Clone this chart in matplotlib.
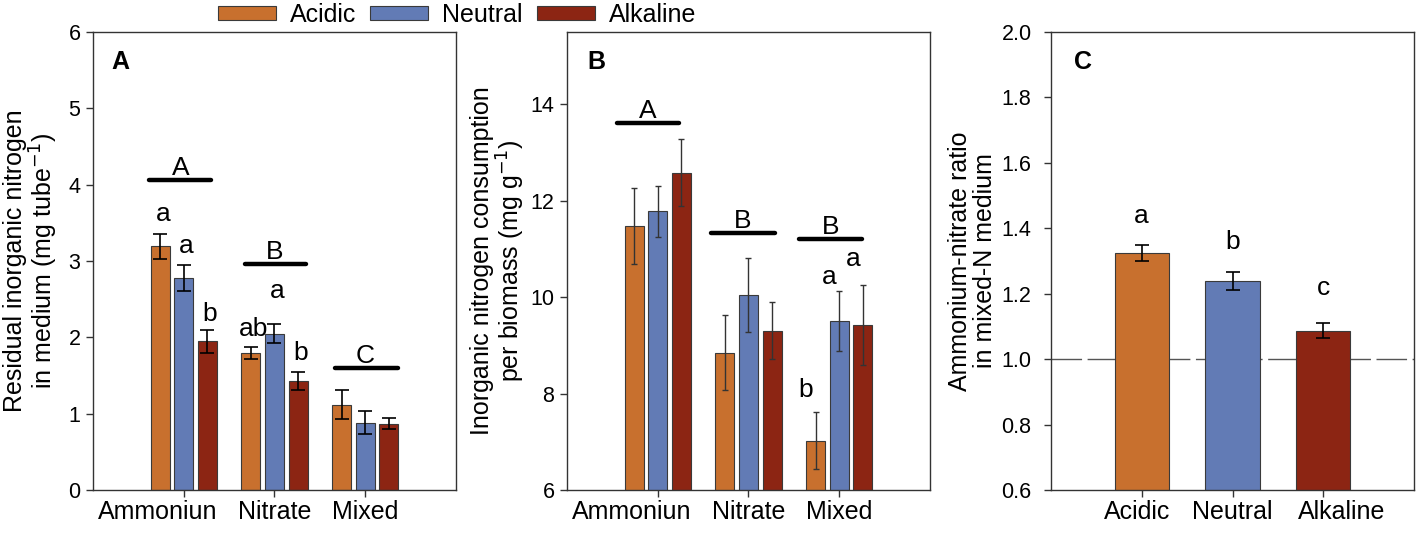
import numpy as np
import matplotlib
matplotlib.use("Agg")
import matplotlib.pyplot as plt
from matplotlib.patches import Patch

plt.rcParams["font.family"] = ["Liberation Sans", "DejaVu Sans"]

# ---- data ----
media = ["Ammoniun", "Nitrate", "Mixed"]
treatments = ["Acidic", "Neutral", "Alkaline"]
colors = ["#C8702E", "#627BB5", "#8C2513"]

# panel A: residual inorganic N (mg tube-1)
resid_acidic = [3.19, 1.79, 1.12]
resid_neutral = [2.78, 2.05, 0.88]
resid_alkaline = [1.95, 1.43, 0.87]
resid_err_acidic = [0.16, 0.08, 0.19]
resid_err_neutral = [0.17, 0.12, 0.15]
resid_err_alkaline = [0.15, 0.12, 0.07]

# panel B: consumption per biomass (mg g-1)
cons_acidic = [11.48, 8.85, 7.02]
cons_neutral = [11.78, 10.04, 9.50]
cons_alkaline = [12.58, 9.30, 9.43]
cons_err_acidic = [0.79, 0.78, 0.59]
cons_err_neutral = [0.53, 0.77, 0.62]
cons_err_alkaline = [0.69, 0.59, 0.83]

# panel C: ammonium-nitrate ratio in mixed-N medium
ratio = [1.324, 1.239, 1.087]
ratio_err = [0.025, 0.027, 0.022]

# significance letters (text, group, treatment, y)
A_group_letters = ["A", "B", "C"]
A_group_y = [4.06, 2.96, 1.60]
A_bar_letters = [("a", 0, 0, 3.53), ("a", 0, 1, 3.10), ("b", 0, 2, 2.21),
                 ("ab", 1, 0, 2.02), ("a", 1, 1, 2.52), ("b", 1, 2, 1.70)]
B_group_letters = ["A", "B", "B"]
B_group_y = [13.61, 11.33, 11.21]
B_bar_letters = [("b", 2, 0, 7.93), ("a", 2, 1, 10.28), ("a", 2, 2, 10.64)]
C_letters = ["a", "b", "c"]
C_letters_y = [1.416, 1.336, 1.197]

FS_TICK = 15.5
FS_X = 18
FS_LAB = 18
FS_LET = 19
W = 0.21
OFF = 0.26


def style_axes(ax, ypad=4):
    for s in ax.spines.values():
        s.set_color("#333333")
        s.set_linewidth(1.0)
    ax.tick_params(direction="out", length=5, width=1, color="#333333",
                   labelsize=FS_TICK, top=False, right=False)
    ax.tick_params(axis="y", pad=ypad)
    ax.tick_params(axis="x", labelsize=FS_X, pad=2)
    ax.tick_params(axis="x", which="minor", length=0, pad=7, labelsize=FS_X)
    ax.xaxis.remove_overlapping_locs = False
    ax.set_xlim(-1, 3)


def grouped(ax, vals, errs, ecolor, elw, cap):
    x = np.arange(len(media))
    for k, (v, e) in enumerate(zip(vals, errs)):
        ax.bar(x + (k - 1) * OFF, v, W, color=colors[k], edgecolor="#3a3a3a",
               linewidth=0.8, zorder=2)
        ax.errorbar(x + (k - 1) * OFF, v, yerr=e, fmt="none", ecolor=ecolor,
                    elinewidth=elw, capsize=cap, capthick=elw, zorder=3)
    ax.set_xticks(x)
    # first category label sits a little left of its tick in the original
    ax.set_xticklabels([""] + media[1:])
    ax.set_xticks([x[0] - 0.29], [media[0]], minor=True)


fig = plt.figure(figsize=(14.17, 5.34), dpi=100)
axA = fig.add_axes([0.0656, 0.0824, 0.2562, 0.8577])
axB = fig.add_axes([0.4001, 0.0824, 0.2562, 0.8577])
axC = fig.add_axes([0.7417, 0.0824, 0.2562, 0.8577])

# ---- A ----
grouped(axA, [resid_acidic, resid_neutral, resid_alkaline],
        [resid_err_acidic, resid_err_neutral, resid_err_alkaline], "black", 1.2, 5)
axA.set_ylim(0, 6)
axA.set_yticks(range(0, 7))
style_axes(axA)
axA.set_ylabel("Residual inorganic nitrogen\nin medium (mg tube$^{-1}$)",
               fontsize=FS_LAB, linespacing=1.05, labelpad=6)
for i, (lt, y) in enumerate(zip(A_group_letters, A_group_y)):
    xs = [-0.38, -0.33, -0.33][i] + i
    xe = [0.30, 0.35, 0.36][i] + i
    axA.plot([xs, xe], [y, y], color="black", lw=3.2, solid_capstyle="round", zorder=4)
    axA.text(i - 0.03 * (i == 0), y + 0.07, lt, ha="center", va="baseline", fontsize=FS_LET)
for lt, g, k, y in A_bar_letters:
    axA.text(g + (k - 1) * OFF + 0.03, y, lt, ha="center", va="baseline", fontsize=FS_LET)
axA.text(0.05, 0.935, "A", transform=axA.transAxes, fontsize=FS_LAB,
         fontweight="bold", ha="left", va="center")

# ---- B ----
grouped(axB, [cons_acidic, cons_neutral, cons_alkaline],
        [cons_err_acidic, cons_err_neutral, cons_err_alkaline], "#333333", 1.0, 2.5)
axB.set_ylim(6, 15.5)
axB.set_yticks([6, 8, 10, 12, 14])
style_axes(axB)
axB.set_ylabel("Inorganic nitrogen consumption\nper biomass (mg g$^{-1}$)",
               fontsize=FS_LAB, linespacing=1.05, labelpad=2.5)
for i, (lt, y) in enumerate(zip(B_group_letters, B_group_y)):
    xs = [-0.45, -0.41, -0.44][i] + i
    xe = [0.23, 0.29, 0.25][i] + i
    axB.plot([xs, xe], [y, y], color="black", lw=3.2, solid_capstyle="round", zorder=4)
    axB.text((xs + xe) / 2, y + 0.11, lt, ha="center", va="baseline", fontsize=FS_LET)
for lt, g, k, y in B_bar_letters:
    axB.text(g + (k - 1) * OFF - 0.11, y, lt, ha="center", va="baseline", fontsize=FS_LET)
axB.text(0.055, 0.935, "B", transform=axB.transAxes, fontsize=FS_LAB,
         fontweight="bold", ha="left", va="center")

# ---- C ----
xc = np.arange(len(treatments))
axC.axhline(1.0, color="#555555", lw=1.0, dashes=(22, 4), zorder=1)
axC.bar(xc, ratio, 0.6, color=colors, edgecolor="#3a3a3a", linewidth=0.8, zorder=2)
axC.errorbar(xc, ratio, yerr=ratio_err, fmt="none", ecolor="black",
             elinewidth=1.2, capsize=5, capthick=1.2, zorder=3)
axC.set_ylim(0.6, 2.0)
axC.set_yticks(np.arange(0.6, 2.01, 0.2))
axC.yaxis.set_major_formatter(matplotlib.ticker.FormatStrFormatter("%.1f"))
axC.set_xticks(xc)
axC.set_xticklabels([""] * len(treatments))
# labels drawn slightly off their ticks, as in the original
axC.set_xticks(xc + np.array([-0.05, 0.0, 0.2]), treatments, minor=True)
style_axes(axC, ypad=9)
axC.set_ylabel("Ammonium-nitrate ratio\nin mixed-N medium",
               fontsize=FS_LAB, linespacing=1.05, labelpad=3)
for x, lt, y in zip(xc, C_letters, C_letters_y):
    axC.text(x, y, lt, ha="center", va="baseline", fontsize=FS_LET)
axC.text(0.063, 0.935, "C", transform=axC.transAxes, fontsize=FS_LAB,
         fontweight="bold", ha="left", va="center")

# ---- legend ----
handles = [Patch(facecolor=c, edgecolor="#3a3a3a", linewidth=0.8) for c in colors]
fig.legend(handles, treatments, loc="center", bbox_to_anchor=(0.3225, 0.972),
           ncol=3, frameon=False, fontsize=FS_LAB, handlelength=2.32,
           handleheight=0.5, handletextpad=0.56, columnspacing=0.56,
           borderpad=0, borderaxespad=0)

fig.savefig("out.png", dpi=100)
